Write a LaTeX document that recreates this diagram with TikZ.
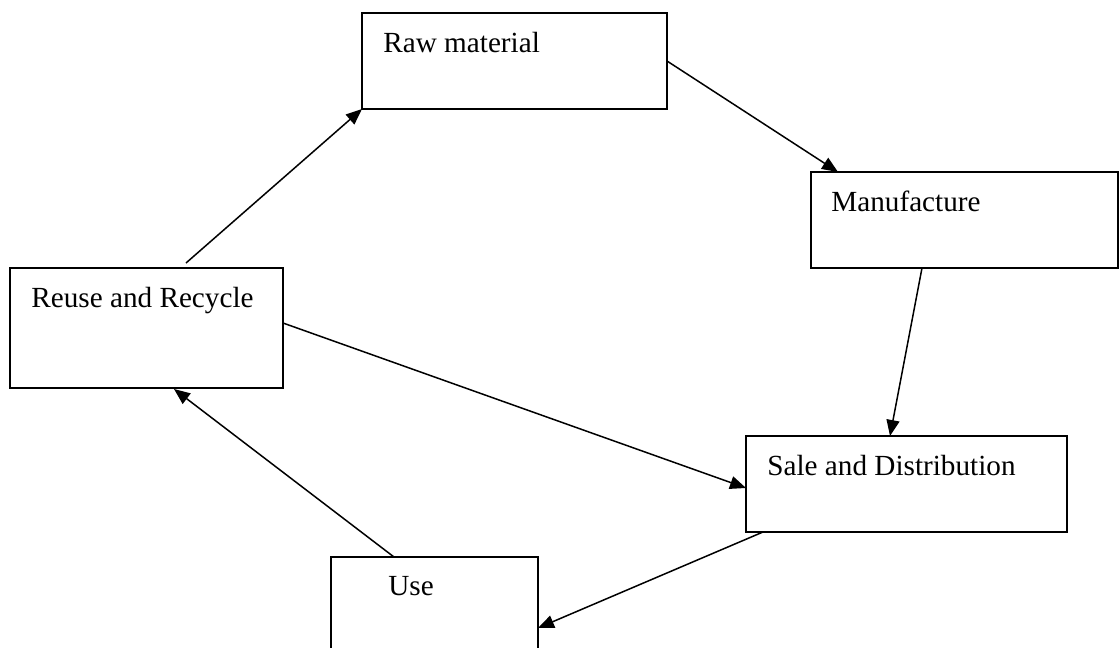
\documentclass[tikz,border=0pt]{standalone}
\usepackage{fontspec}
\setmainfont{Liberation Serif}
\usetikzlibrary{arrows.meta,calc}
\tikzset{
  box/.style={draw=black, line width=1pt, rectangle, inner sep=0pt, outer sep=0pt, fill=white},
  lbl/.style={anchor=base west, inner sep=0pt, font=\fontsize{14.6}{17}\selectfont},
  arr/.style={draw=black, line width=0.75pt, -{Triangle[length=8pt,width=6.5pt]}}
}
\begin{document}
\begin{tikzpicture}[x=0.5pt,y=-0.5pt]
\useasboundingbox (0,0) rectangle (1120,648);
\clip (0,0) rectangle (1120,648);
\fill[white] (0,0) rectangle (1120,648);
% boxes
\node[box, minimum width=152.5pt, minimum height=48pt] (raw) at (514.5,61) {};
\node[box, minimum width=153.5pt, minimum height=48pt] (manu) at (964.5,220) {};
\node[box, minimum width=136.5pt, minimum height=60pt] (reuse) at (146.5,328) {};
\node[box, minimum width=160.5pt, minimum height=48pt] (sale) at (906.5,484) {};
\node[box, minimum width=103.5pt, minimum height=56.5pt] (use) at (434.5,613.5) {};
% labels
\node[lbl] (rawt) at ($(raw.north west)+(21,39)$) {Raw material};
\node[lbl] (manut) at ($(manu.north west)+(20,39)$) {Manufacture};
\node[lbl] (reuset) at ($(reuse.north west)+(21,39)$) {Reuse and Recycle};
\node[lbl] (salet) at ($(sale.north west)+(21,39)$) {Sale and Distribution};
\node[lbl] (uset) at ($(use.north west)+(57,38)$) {Use};
% connectors
\draw[arr] ($(reuse.north)+(39.5,-5)$) -- (raw.south west);
\draw[arr] (raw.east) -- ($(manu.north west)+(27,0)$);
\draw[arr] ($(manu.south)+(-42.5,0)$) -- ($(sale.north)+(-16.5,0)$);
\draw[arr] ($(reuse.east)+(0,-5)$) -- ($(sale.west)+(0,4)$);
\draw[arr] ($(sale.south west)+(17,0)$) -- ($(use.north east)+(0,71)$);
\draw[arr] ($(use.north west)+(63,0)$) -- ($(reuse.south west)+(164,1)$);
\end{tikzpicture}
\end{document}
